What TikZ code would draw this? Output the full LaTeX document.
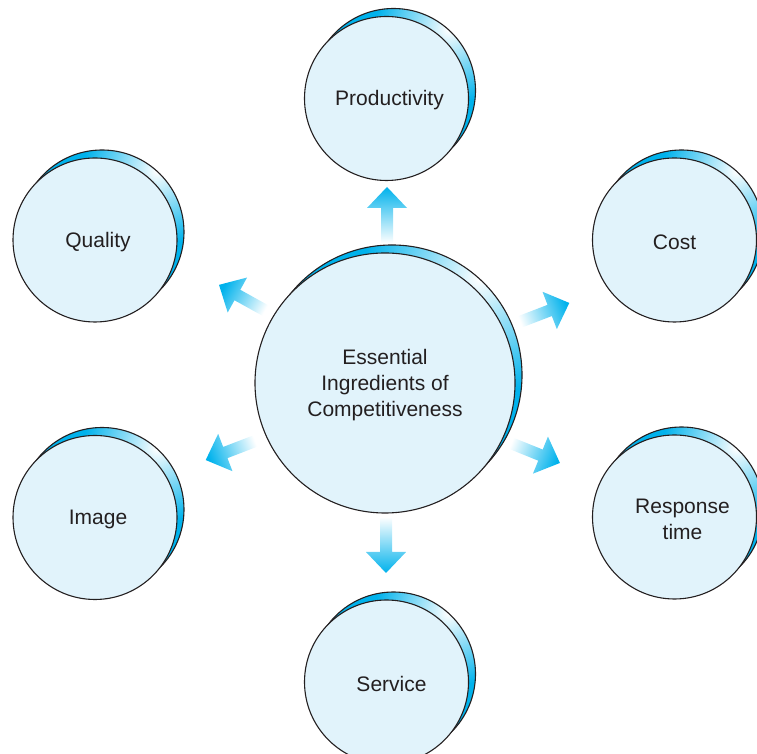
\documentclass[tikz,border=0pt]{standalone}
\usepackage{fontspec}
\setmainfont{Liberation Sans}
\usetikzlibrary{calc}
\definecolor{bubblefill}{RGB}{225,243,251}
\definecolor{bubbleblue}{RGB}{0,178,236}
\definecolor{inkline}{RGB}{35,31,32}
\tikzset{
  frontdisc/.style={circle, draw=inkline, line width=1.1pt, fill=bubblefill, inner sep=0pt},
  backdisc/.style={draw=inkline, line width=1.1pt},
  labeltext/.style={text=inkline, font=\fontsize{21}{26}\selectfont, align=center},
}
% name, cx, cy, r, text, text xshift
\newcommand\bubble[6]{%
  \begin{scope}
    \clip (#2+7,#3+8) circle (#4);
    \fill[bubbleblue] (#2+7,#3+8) circle (#4);
    \shade[inner color=white, outer color=bubbleblue] ($(#2+7,#3+8)+(48:#4)$) circle ({0.9*#4});
  \end{scope}
  \draw[backdisc] (#2+7,#3+8) circle (#4);
  \node[frontdisc, minimum size={2*#4*1pt}] (#1) at (#2,#3) {};
  \node[labeltext] (#1-text) at ($(#1.center)+(#6,-2)$) {#5};
}
% name, tail x, tail y, angle
\newcommand\fatarrow[4]{%
  \coordinate (#1) at (#2,#3);
  \pgfmathsetmacro\arrshang{#4-90}
  \begin{scope}[shift={(#1)}, rotate=#4]
    \shade[top color=bubbleblue, bottom color=white, shading angle=\arrshang]
      (0,-6) -- (35,-6) -- (35,-20) -- (56,0) -- (35,20) -- (35,6) -- (0,6) -- cycle;
  \end{scope}
}
\begin{document}
\begin{tikzpicture}[x=1pt, y=1pt]
  \useasboundingbox (0,0) rectangle (757,754);
  \clip (0,0) rectangle (757,754);
  \bubble{core}{385}{371}{130}{Essential\\Ingredients of\\Competitiveness}{0}
  \bubble{productivity}{386.5}{655.5}{82}{Productivity}{3}
  \bubble{quality}{95}{514}{82}{Quality}{3}
  \bubble{cost}{674.5}{514}{82}{Cost}{0}
  \bubble{image}{95}{236.5}{82}{Image}{3}
  \bubble{response}{674.5}{237}{82}{Response\\time}{8}
  \bubble{service}{386.5}{72}{82}{Service}{5}
  \fatarrow{a-prod}{387}{511}{90}
  \fatarrow{a-serv}{386}{237}{-90}
  \fatarrow{a-qual}{268}{442}{151}
  \fatarrow{a-cost}{517}{431}{21}
  \fatarrow{a-img}{258}{314}{201}
  \fatarrow{a-resp}{508}{312}{-22}
\end{tikzpicture}
\end{document}
